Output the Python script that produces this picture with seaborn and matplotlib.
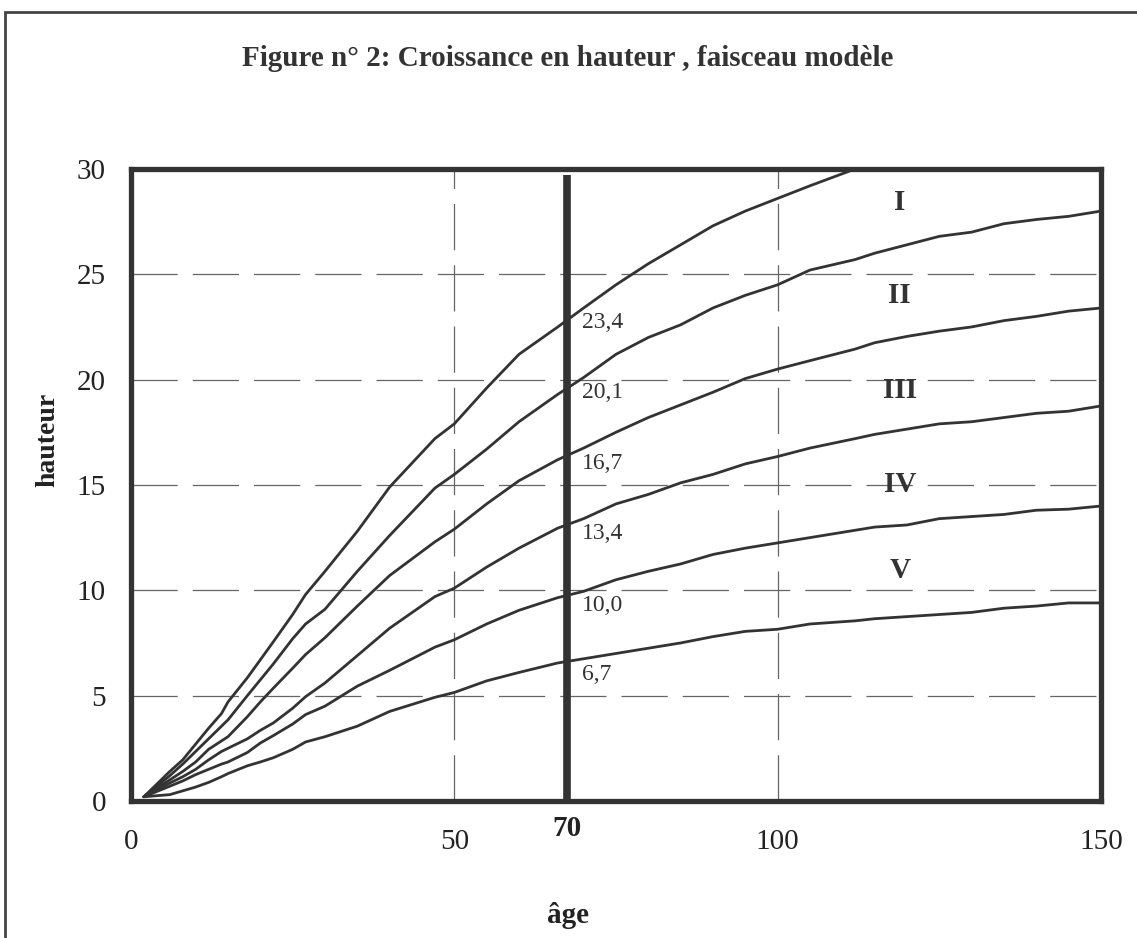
import numpy as np
import pandas as pd
import seaborn as sns
import matplotlib.pyplot as plt
from matplotlib.patches import Rectangle
from matplotlib.ticker import MultipleLocator

# Donnees (age en annees, hauteur en m)
age = [2, 6, 8, 10, 12, 14, 15, 18, 20, 22, 25, 27, 30, 35, 40, 47, 50, 55, 60, 66, 70,
       75, 80, 85, 90, 95, 100, 105, 112, 115, 120, 125, 130, 135, 140, 145, 150]

h_234 = [0.2, 1.4, 1.95, 2.7, 3.45, 4.15, 4.7, 5.85, 6.7, 7.55, 8.85, 9.8, 10.9, 12.8, 14.9, 17.2, 17.9,
         19.6, 21.2, 22.5, 23.4, 24.5, 25.5, 26.4, 27.3, 28.0, 28.6, 29.2, 30.0,
         np.nan, np.nan, np.nan, np.nan, np.nan, np.nan, np.nan, np.nan]
h_201 = [0.2, 1.2, 1.75, 2.35, 2.95, 3.55, 3.85, 5.0, 5.75, 6.5, 7.7, 8.4, 9.1, 10.9, 12.6, 14.85, 15.5,
         16.7, 18.0, 19.3, 20.1, 21.2, 22.0, 22.6, 23.4, 24.0, 24.5, 25.2, 25.7, 26.0, 26.4, 26.8, 27.0,
         27.4, 27.6, 27.75, 28.0]
h_167 = [0.2, 1.0, 1.4, 1.85, 2.45, 2.85, 3.05, 4.0, 4.7, 5.35, 6.3, 6.95, 7.75, 9.25, 10.7, 12.3, 12.9,
         14.1, 15.2, 16.2, 16.75, 17.5, 18.2, 18.8, 19.4, 20.05, 20.5, 20.9, 21.45, 21.75, 22.05, 22.3,
         22.5, 22.8, 23.0, 23.25, 23.4]
h_134 = [0.2, 0.85, 1.15, 1.5, 1.95, 2.35, 2.5, 2.95, 3.35, 3.7, 4.4, 4.95, 5.6, 6.9, 8.2, 9.7, 10.1,
         11.1, 12.0, 12.95, 13.4, 14.1, 14.55, 15.1, 15.5, 16.0, 16.35, 16.75, 17.2, 17.4, 17.65, 17.9,
         18.0, 18.2, 18.4, 18.5, 18.75]
h_100 = [0.2, 0.7, 0.95, 1.25, 1.5, 1.75, 1.85, 2.3, 2.75, 3.1, 3.65, 4.1, 4.5, 5.45, 6.2, 7.3, 7.65,
         8.4, 9.05, 9.65, 9.95, 10.5, 10.9, 11.25, 11.7, 12.0, 12.25, 12.5, 12.85, 13.0, 13.1, 13.4,
         13.5, 13.6, 13.8, 13.85, 14.0]
h_67 = [0.2, 0.3, 0.48, 0.66, 0.88, 1.15, 1.3, 1.67, 1.85, 2.05, 2.45, 2.8, 3.05, 3.55, 4.25, 4.92, 5.15,
        5.7, 6.1, 6.55, 6.75, 7.0, 7.25, 7.5, 7.8, 8.05, 8.15, 8.4, 8.55, 8.65, 8.75, 8.85, 8.95,
        9.15, 9.25, 9.4, 9.4]

# valeurs a 70 ans et classes de fertilite
valeurs_70 = [23.4, 20.1, 16.7, 13.4, 10.0, 6.7]
etiquettes_70 = ['23,4', '20,1', '16,7', '13,4', '10,0', '6,7']
classes = ['I', 'II', 'III', 'IV', 'V']
classes_y = [28.4, 24.0, 19.5, 15.0, 10.95]
age_reference = 67.5

courbes = [h_234, h_201, h_167, h_134, h_100, h_67]

sns.set_style('white')
plt.rcParams['font.family'] = ['Liberation Serif', 'DejaVu Serif']

gris = '#333333'

fig = plt.figure(figsize=(11.37, 9.38), dpi=100)
ax = fig.add_axes([0.1152, 0.1461, 0.8531, 0.6738])

# cadre exterieur de la figure
fig.patches.append(Rectangle((0.0044, -0.1), 1.2, 1.0872, transform=fig.transFigure,
                             fill=False, edgecolor='#444444', linewidth=2.0))

for h in courbes:
    sns.lineplot(x=age, y=h, ax=ax, color=gris, linewidth=2.0, zorder=3)

# ligne verticale a 70 ans
ax.plot([age_reference, age_reference], [0, 29.7], color=gris, linewidth=5.5, zorder=4,
        solid_capstyle='butt')

ax.set_xlim(0, 150)
ax.set_ylim(0, 30)

# grille en tirets
for y in [5, 10, 15, 20, 25]:
    ax.axhline(y, color='#666666', linewidth=0.9, linestyle=(0, (37, 12)), zorder=1)
for x in [50, 100]:
    ax.axvline(x, color='#666666', linewidth=0.9, linestyle=(0, (37, 12)), zorder=1)

for s in ax.spines.values():
    s.set_color(gris)
    s.set_linewidth(3.8)

ax.xaxis.set_major_locator(MultipleLocator(50))
ax.xaxis.set_minor_locator(MultipleLocator(10))
ax.yaxis.set_major_locator(MultipleLocator(5))
ax.yaxis.set_minor_locator(MultipleLocator(1))
ax.tick_params(axis='x', which='major', direction='out', length=8, width=1, color=gris,
               labelsize=21, pad=12, labelcolor='#222222')
ax.tick_params(axis='x', which='minor', direction='out', length=6, width=1, color=gris)
ax.tick_params(axis='y', which='major', direction='out', length=8, width=1, color=gris,
               labelsize=21, pad=10, labelcolor='#222222')
ax.tick_params(axis='y', which='minor', direction='in', length=6, width=1, color=gris)

# etiquettes des valeurs a 70 ans
for v, t in zip(valeurs_70, etiquettes_70):
    ax.text(69.7, v - 0.7, t, fontsize=17, color='#333333', ha='left', va='center', zorder=5)

# classes de fertilite
for c, y in zip(classes, classes_y):
    ax.text(118.9, y, c, fontsize=21, fontweight='bold', color='#333333', ha='center',
            va='center', zorder=5)

ax.text(age_reference, -1.3, '70', fontsize=21, fontweight='bold', color='#222222',
        ha='center', va='center')

fig.text(0.4996, 0.938, 'Figure n° 2: Croissance en hauteur , faisceau modèle', fontsize=21,
         fontweight='bold', color='#333333', ha='center', va='center')
fig.text(0.0422, 0.531, 'hauteur', fontsize=20, fontweight='bold', color='#222222',
         rotation=90, ha='center', va='center')
fig.text(0.4996, 0.0245, 'âge', fontsize=21, fontweight='bold', color='#222222',
         ha='center', va='center')

ax.set_xlabel('')
ax.set_ylabel('')

fig.savefig('out.png', dpi=100)
